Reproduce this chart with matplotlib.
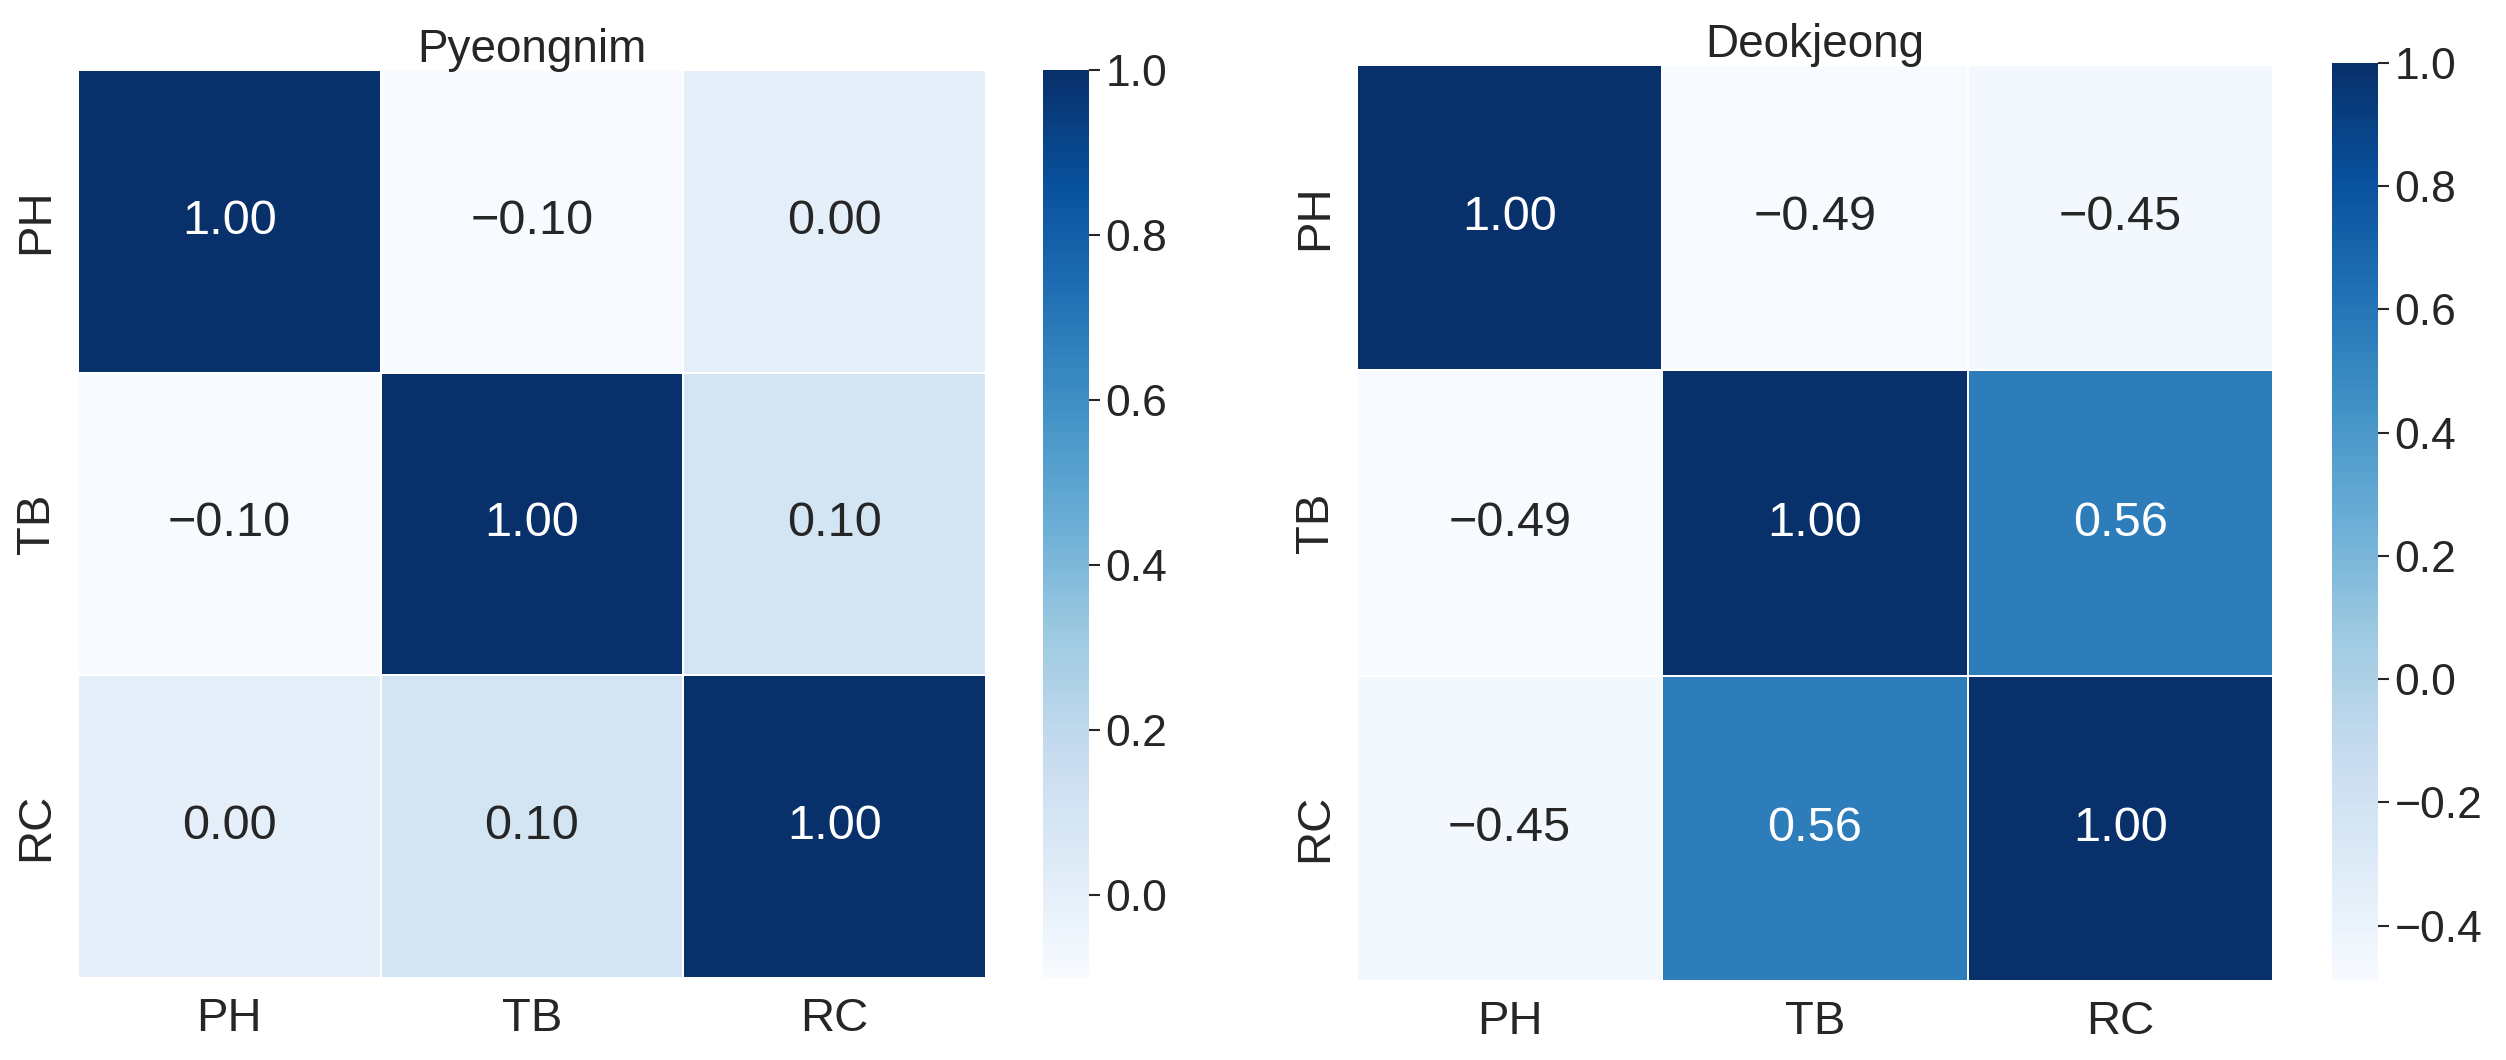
import numpy as np
import pandas as pd
import matplotlib
matplotlib.use("Agg")
import matplotlib.pyplot as plt
import seaborn as sns

labels = ["PH", "TB", "RC"]
titles = ["Pyeongnim", "Deokjeong"]
corr_pyeongnim = [[1.00, -0.10, 0.00],
                  [-0.10, 1.00, 0.10],
                  [0.00, 0.10, 1.00]]
corr_deokjeong = [[1.00, -0.49, -0.45],
                  [-0.49, 1.00, 0.56],
                  [-0.45, 0.56, 1.00]]
cbar_ticks_left = [0.0, 0.2, 0.4, 0.6, 0.8, 1.0]
cbar_ticks_right = [-0.4, -0.2, 0.0, 0.2, 0.4, 0.6, 0.8, 1.0]

sns.set_theme(style="white")
plt.rcParams['font.family'] = ['Liberation Sans', 'DejaVu Sans']
plt.rcParams['text.color'] = '#262626'
plt.rcParams['xtick.color'] = '#262626'
plt.rcParams['ytick.color'] = '#262626'

W, H = 2506, 1060
fig = plt.figure(figsize=(W / 100, H / 100), dpi=100)

def px(x0, y0, x1, y1):
    return [x0 / W, (H - y1) / H, (x1 - x0) / W, (y1 - y0) / H]

layouts = [
    (px(78, 70, 986, 978), px(1043, 70, 1089, 978), corr_pyeongnim, cbar_ticks_left, titles[0]),
    (px(1357, 65, 2273, 981), px(2332, 63, 2378, 981), corr_deokjeong, cbar_ticks_right, titles[1]),
]

for hm_pos, cb_pos, data, cticks, title in layouts:
    ax = fig.add_axes(hm_pos)
    cax = fig.add_axes(cb_pos)
    df = pd.DataFrame(data, index=labels, columns=labels)
    annot = np.array([[f"{v:.2f}".replace("-", "\u2212") for v in row] for row in data])
    sns.heatmap(df, ax=ax, cbar_ax=cax, cmap="Blues", annot=annot, fmt="",
                linewidths=1.2, linecolor="white",
                annot_kws={"fontsize": 35})
    ax.set_title(title, fontsize=33, pad=6)
    ax.tick_params(axis='both', labelsize=34, length=0, pad=14)
    ax.set_xticklabels(labels, rotation=0)
    ax.set_yticklabels(labels, rotation=90, va='center')
    cax.set_yticks(cticks)
    cax.set_yticklabels([f"{t:.1f}".replace("-", "\u2212") for t in cticks])
    cax.tick_params(labelsize=32, length=8, width=1.5, pad=4, color='#262626')
    for s in cax.spines.values():
        s.set_visible(False)

fig.savefig("out.png", dpi=100, facecolor="white")
